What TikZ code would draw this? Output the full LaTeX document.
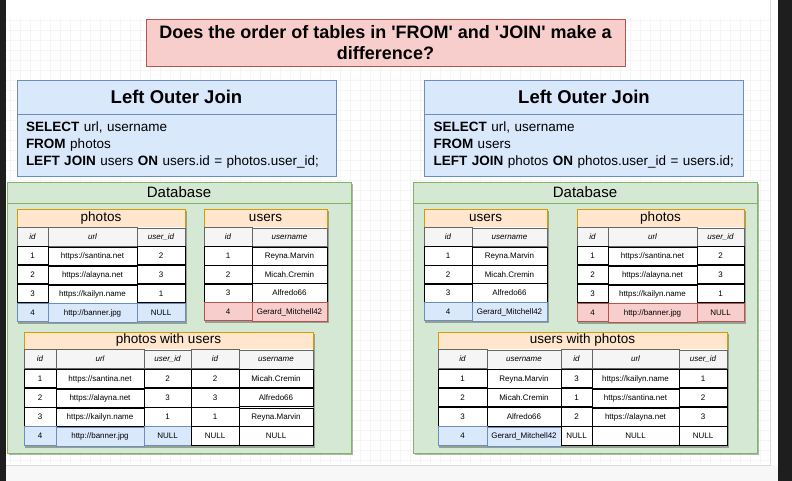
\documentclass[tikz,border=0pt]{standalone}
\usepackage{fontspec}
\setmainfont{Liberation Sans}
\usetikzlibrary{matrix,shadows,positioning}

\definecolor{redF}{HTML}{F8CECC}
\definecolor{redD}{HTML}{B85450}
\definecolor{blueF}{HTML}{DAE8FC}
\definecolor{blueD}{HTML}{6C8EBF}
\definecolor{greenF}{HTML}{D5E8D4}
\definecolor{greenD}{HTML}{82B366}
\definecolor{orangeF}{HTML}{FFE6CC}
\definecolor{orangeD}{HTML}{D79B00}
\definecolor{headF}{HTML}{F5F5F5}
\definecolor{headD}{HTML}{666666}
\definecolor{uiDark}{HTML}{1E1E1E}

\tikzset{
  gridline/.style={black!4, line width=0.4pt},
  tshadow/.style={drop shadow={shadow xshift=1.5pt, shadow yshift=-1.5pt, opacity=.3, fill=black}},
  question/.style={draw=redD, fill=redF, align=center, minimum width=479pt, minimum height=47pt,
    font=\fontsize{18}{21.6}\selectfont\bfseries},
  qhead/.style={draw=blueD, fill=blueF, outer sep=0pt, minimum width=319pt, minimum height=34pt,
    font=\fontsize{18.5}{22}\selectfont\bfseries},
  qbody/.style={draw=blueD, fill=blueF, outer sep=0pt, align=left, text width=301pt, inner xsep=9pt,
    minimum height=62pt, font=\fontsize{13.5}{17}\selectfont},
  dbbox/.style={draw=greenD, fill=greenF, minimum width=344pt, minimum height=271pt, tshadow},
  dbtitle/.style={font=\fontsize{15}{18}\selectfont},
  tabtitle/.style={draw=orangeD, fill=orangeF, outer sep=0pt, inner sep=0pt, minimum height=18pt,
    font=\fontsize{13.5}{16}\selectfont, tshadow},
  tcell/.style={draw=black, fill=white, inner sep=0pt, minimum height=18.2pt,
    font=\fontsize{8}{9.6}\selectfont},
  colhead/.style={fill=headF, draw=headD, font=\fontsize{8}{9.6}\selectfont\itshape},
  bluecell/.style={fill=blueF, draw=blueD},
  redcell/.style={fill=redF, draw=redD},
  dbtab/.style={matrix of nodes, anchor=north, inner sep=0pt, fill=white, tshadow,
    column sep=-\pgflinewidth, row sep=-\pgflinewidth,
    nodes={tcell}, row 1/.style={nodes={colhead}}},
}

\begin{document}
\begin{tikzpicture}[x=1pt,y=-1pt,line width=0.8pt]
  \useasboundingbox (0,0) rectangle (792,481);
  % canvas
  \fill[white] (0,0) rectangle (792,481);
  \foreach \gx in {10,20,...,770} \draw[gridline] (\gx,18) -- (\gx,465);
  \foreach \gy in {20,30,...,460} \draw[gridline] (6,\gy) -- (770,\gy);
  \fill[black!3] (6,465) rectangle (778,481);
  \draw[black!15, line width=0.5pt] (6,465) -- (770,465) -- (770,0);
  \fill[uiDark] (0,0) rectangle (6,481);
  \fill[uiDark] (778,0) rectangle (792,481);

  % question
  \node[question] (question) at (385.5,42.5)
    {Does the order of tables in \textquotesingle FROM\textquotesingle{} and \textquotesingle JOIN\textquotesingle{} make a\\difference?};

  % queries
  \node[qhead] (leftHead) at (176.5,97) {Left Outer Join};
  \node[qbody, below=0pt of leftHead] (leftSql)
    {\textbf{SELECT} url, username\\\textbf{FROM} photos\\\textbf{LEFT JOIN} users \textbf{ON} users.id = photos.user\_id;};
  \node[qhead] (rightHead) at (584,97) {Left Outer Join};
  \node[qbody, below=0pt of rightHead] (rightSql)
    {\textbf{SELECT} url, username\\\textbf{FROM} users\\\textbf{LEFT JOIN} photos \textbf{ON} photos.user\_id = users.id;};

  % databases
  \node[dbbox, anchor=north west] (leftDb) at (7,182) {};
  \draw[greenD] (leftDb.north west) ++(0,21) -- ++(344,0);
  \node[dbtitle] (leftDbTitle) at (179,192.5) {Database};
  \node[dbbox, anchor=north west] (rightDb) at (413,182) {};
  \draw[greenD] (rightDb.north west) ++(0,21) -- ++(344,0);
  \node[dbtitle] (rightDbTitle) at (585,192.5) {Database};

  % left: photos
  \node[tabtitle, minimum width=168pt] (photosL) at (101,218) {photos};
  \matrix (photosLTab) [dbtab, column 1/.style={nodes={minimum width=31pt}},
    column 2/.style={nodes={minimum width=89pt}}, column 3/.style={nodes={minimum width=48pt}},
    row 5/.style={nodes={bluecell}}] at (photosL.south) {
    id & url & user\_id \\
    1 & https://santina.net & 2 \\
    2 & https://alayna.net & 3 \\
    3 & https://kailyn.name & 1 \\
    4 & http://banner.jpg & NULL \\
  };

  % left: users
  \node[tabtitle, minimum width=123pt] (usersL) at (265.5,218) {users};
  \matrix (usersLTab) [dbtab, column 1/.style={nodes={minimum width=48pt}},
    column 2/.style={nodes={minimum width=75pt}},
    row 5/.style={nodes={redcell}}] at (usersL.south) {
    id & username \\
    1 & Reyna.Marvin \\
    2 & Micah.Cremin \\
    3 & Alfredo66 \\
    4 & Gerard\_Mitchell42 \\
  };

  % right: users
  \node[tabtitle, minimum width=123pt] (usersR) at (485.5,218) {users};
  \matrix (usersRTab) [dbtab, column 1/.style={nodes={minimum width=48pt}},
    column 2/.style={nodes={minimum width=75pt}},
    row 5/.style={nodes={bluecell}}] at (usersR.south) {
    id & username \\
    1 & Reyna.Marvin \\
    2 & Micah.Cremin \\
    3 & Alfredo66 \\
    4 & Gerard\_Mitchell42 \\
  };

  % right: photos
  \node[tabtitle, minimum width=167pt] (photosR) at (660.5,218) {photos};
  \matrix (photosRTab) [dbtab, column 1/.style={nodes={minimum width=31pt}},
    column 2/.style={nodes={minimum width=89pt}}, column 3/.style={nodes={minimum width=47pt}},
    row 5/.style={nodes={redcell}}] at (photosR.south) {
    id & url & user\_id \\
    1 & https://santina.net & 2 \\
    2 & https://alayna.net & 3 \\
    3 & https://kailyn.name & 1 \\
    4 & http://banner.jpg & NULL \\
  };

  % left result
  \node[tabtitle, minimum width=289pt, minimum height=17pt] (photosUsers) at (168.5,340.5) {photos with users};
  \matrix (photosUsersTab) [dbtab, nodes={minimum height=18.5pt},
    column 1/.style={nodes={minimum width=32pt}}, column 2/.style={nodes={minimum width=88pt}},
    column 3/.style={nodes={minimum width=47pt}}, column 4/.style={nodes={minimum width=48pt}},
    column 5/.style={nodes={minimum width=74pt}},
    row 5 column 1/.style={nodes={bluecell}}, row 5 column 2/.style={nodes={bluecell}},
    row 5 column 3/.style={nodes={bluecell}}] at (photosUsers.south) {
    id & url & user\_id & id & username \\
    1 & https://santina.net & 2 & 2 & Micah.Cremin \\
    2 & https://alayna.net & 3 & 3 & Alfredo66 \\
    3 & https://kailyn.name & 1 & 1 & Reyna.Marvin \\
    4 & http://banner.jpg & NULL & NULL & NULL \\
  };

  % right result
  \node[tabtitle, minimum width=289pt, minimum height=17pt] (usersPhotos) at (582.5,340.5) {users with photos};
  \matrix (usersPhotosTab) [dbtab, nodes={minimum height=18.5pt},
    column 1/.style={nodes={minimum width=49pt}}, column 2/.style={nodes={minimum width=74pt}},
    column 3/.style={nodes={minimum width=31pt}}, column 4/.style={nodes={minimum width=87pt}},
    column 5/.style={nodes={minimum width=48pt}},
    row 5 column 1/.style={nodes={bluecell}}, row 5 column 2/.style={nodes={bluecell}}] at (usersPhotos.south) {
    id & username & id & url & user\_id \\
    1 & Reyna.Marvin & 3 & https://kailyn.name & 1 \\
    2 & Micah.Cremin & 1 & https://santina.net & 2 \\
    3 & Alfredo66 & 2 & https://alayna.net & 3 \\
    4 & Gerard\_Mitchell42 & NULL & NULL & NULL \\
  };
\end{tikzpicture}
\end{document}
